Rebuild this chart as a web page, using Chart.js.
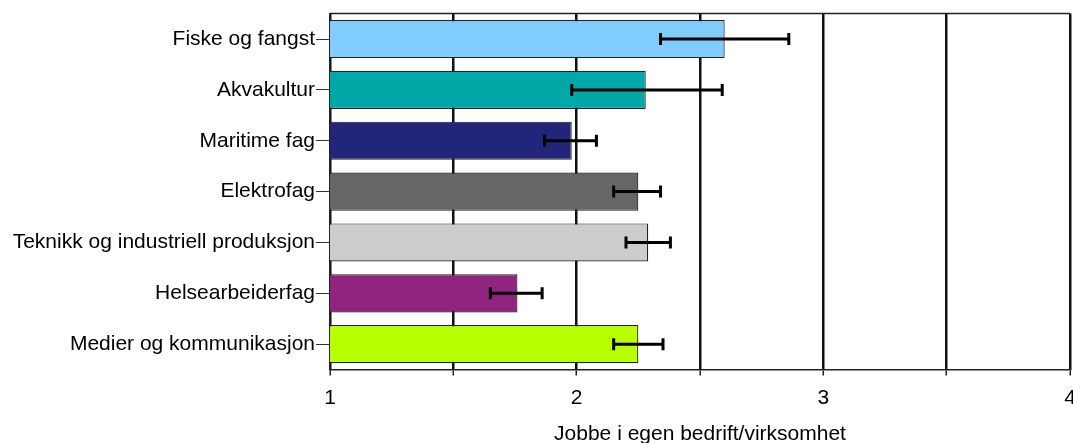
<!DOCTYPE html>
<html>
<head>
<meta charset="utf-8">
<script src="https://cdn.jsdelivr.net/npm/chart.js@4"></script>
<style>
html,body{margin:0;padding:0;background:#fff;}
#wrap{width:1073px;height:443px;position:relative;}
</style>
</head>
<body>
<div id="wrap"><canvas id="c" width="1073" height="443"></canvas></div>
<script>
const categories = ["Fiske og fangst","Akvakultur","Maritime fag","Elektrofag","Teknikk og industriell produksjon","Helsearbeiderfag","Medier og kommunikasjon"];
const means = [2.60, 2.28, 1.98, 2.25, 2.29, 1.76, 2.25];
const errLow = [2.34, 1.98, 1.87, 2.15, 2.20, 1.65, 2.15];
const errHigh = [2.86, 2.59, 2.08, 2.34, 2.38, 1.86, 2.35];
const barColors = ["#80ccff","#00a8a8","#22267a","#666666","#cccccc","#912480","#b8ff00"];
const xTicks = [1, 1.5, 2, 2.5, 3, 3.5, 4];
const axisTitle = "Jobbe i egen bedrift/virksomhet";

const FONT = "'Liberation Sans', Arial, sans-serif";

const errorBars = {
  id: 'errorBars',
  afterDatasetsDraw(chart) {
    const ctx = chart.ctx;
    const xs = chart.scales.x;
    const meta = chart.getDatasetMeta(0);
    ctx.save();
    ctx.strokeStyle = '#000';
    ctx.lineWidth = 3;
    meta.data.forEach((bar, i) => {
      const y = bar.y;
      const x1 = xs.getPixelForValue(errLow[i]);
      const x2 = xs.getPixelForValue(errHigh[i]);
      ctx.beginPath();
      ctx.moveTo(x1, y); ctx.lineTo(x2, y);
      ctx.moveTo(x1, y - 6); ctx.lineTo(x1, y + 6);
      ctx.moveTo(x2, y - 6); ctx.lineTo(x2, y + 6);
      ctx.stroke();
    });
    ctx.restore();
  }
};

const frame = {
  id: 'frame',
  afterDraw(chart) {
    const a = chart.chartArea;
    const ctx = chart.ctx;
    ctx.save();
    ctx.strokeStyle = '#222';
    ctx.lineWidth = 1.5;
    ctx.beginPath();
    ctx.moveTo(a.left, a.top); ctx.lineTo(a.right, a.top);
    ctx.stroke();
    ctx.restore();
  }
};

new Chart(document.getElementById('c'), {
  type: 'bar',
  data: {
    labels: categories,
    datasets: [{
      data: means,
      backgroundColor: barColors,
      borderColor: '#222',
      borderWidth: 1.2,
      borderSkipped: false,
      barPercentage: 0.75,
      categoryPercentage: 1.0
    }]
  },
  options: {
    indexAxis: 'y',
    responsive: false,
    animation: false,
    devicePixelRatio: 1,
    layout: { padding: { top: 13, right: 3, left: 0, bottom: -4 } },
    plugins: { legend: { display: false }, tooltip: { enabled: false } },
    scales: {
      x: {
        min: 1, max: 4,
        afterBuildTicks(scale) { scale.ticks = xTicks.map(v => ({ value: v })); },
        afterFit(scale) { scale.paddingRight = 0; scale.paddingLeft = 0; },
        ticks: {
          color: '#000',
          font: { family: FONT, size: 21 },
          padding: 10,
          callback: v => (Number.isInteger(v) ? String(v) : '')
        },
        grid: {
          color: '#111',
          lineWidth: 2.5,
          borderDash: [5, 1],
          tickLength: 6,
          tickColor: '#222',
          tickWidth: 1.5,
          tickBorderDash: []
        },
        border: { display: true, color: '#222', width: 1.5, dash: [] },
        title: {
          display: true,
          text: axisTitle,
          color: '#000',
          font: { family: FONT, size: 21 },
          padding: { top: 1, bottom: 0 }
        }
      },
      y: {
        afterFit(scale) { scale.width = 330; },
        ticks: {
          color: '#000',
          font: { family: FONT, size: 21 },
          padding: 1
        },
        grid: {
          offset: false,
          drawOnChartArea: false,
          tickLength: 14,
          tickColor: '#333',
          tickWidth: 1
        },
        border: { display: true, color: '#222', width: 1.5 }
      }
    }
  },
  plugins: [errorBars, frame]
});
</script>
</body>
</html>
